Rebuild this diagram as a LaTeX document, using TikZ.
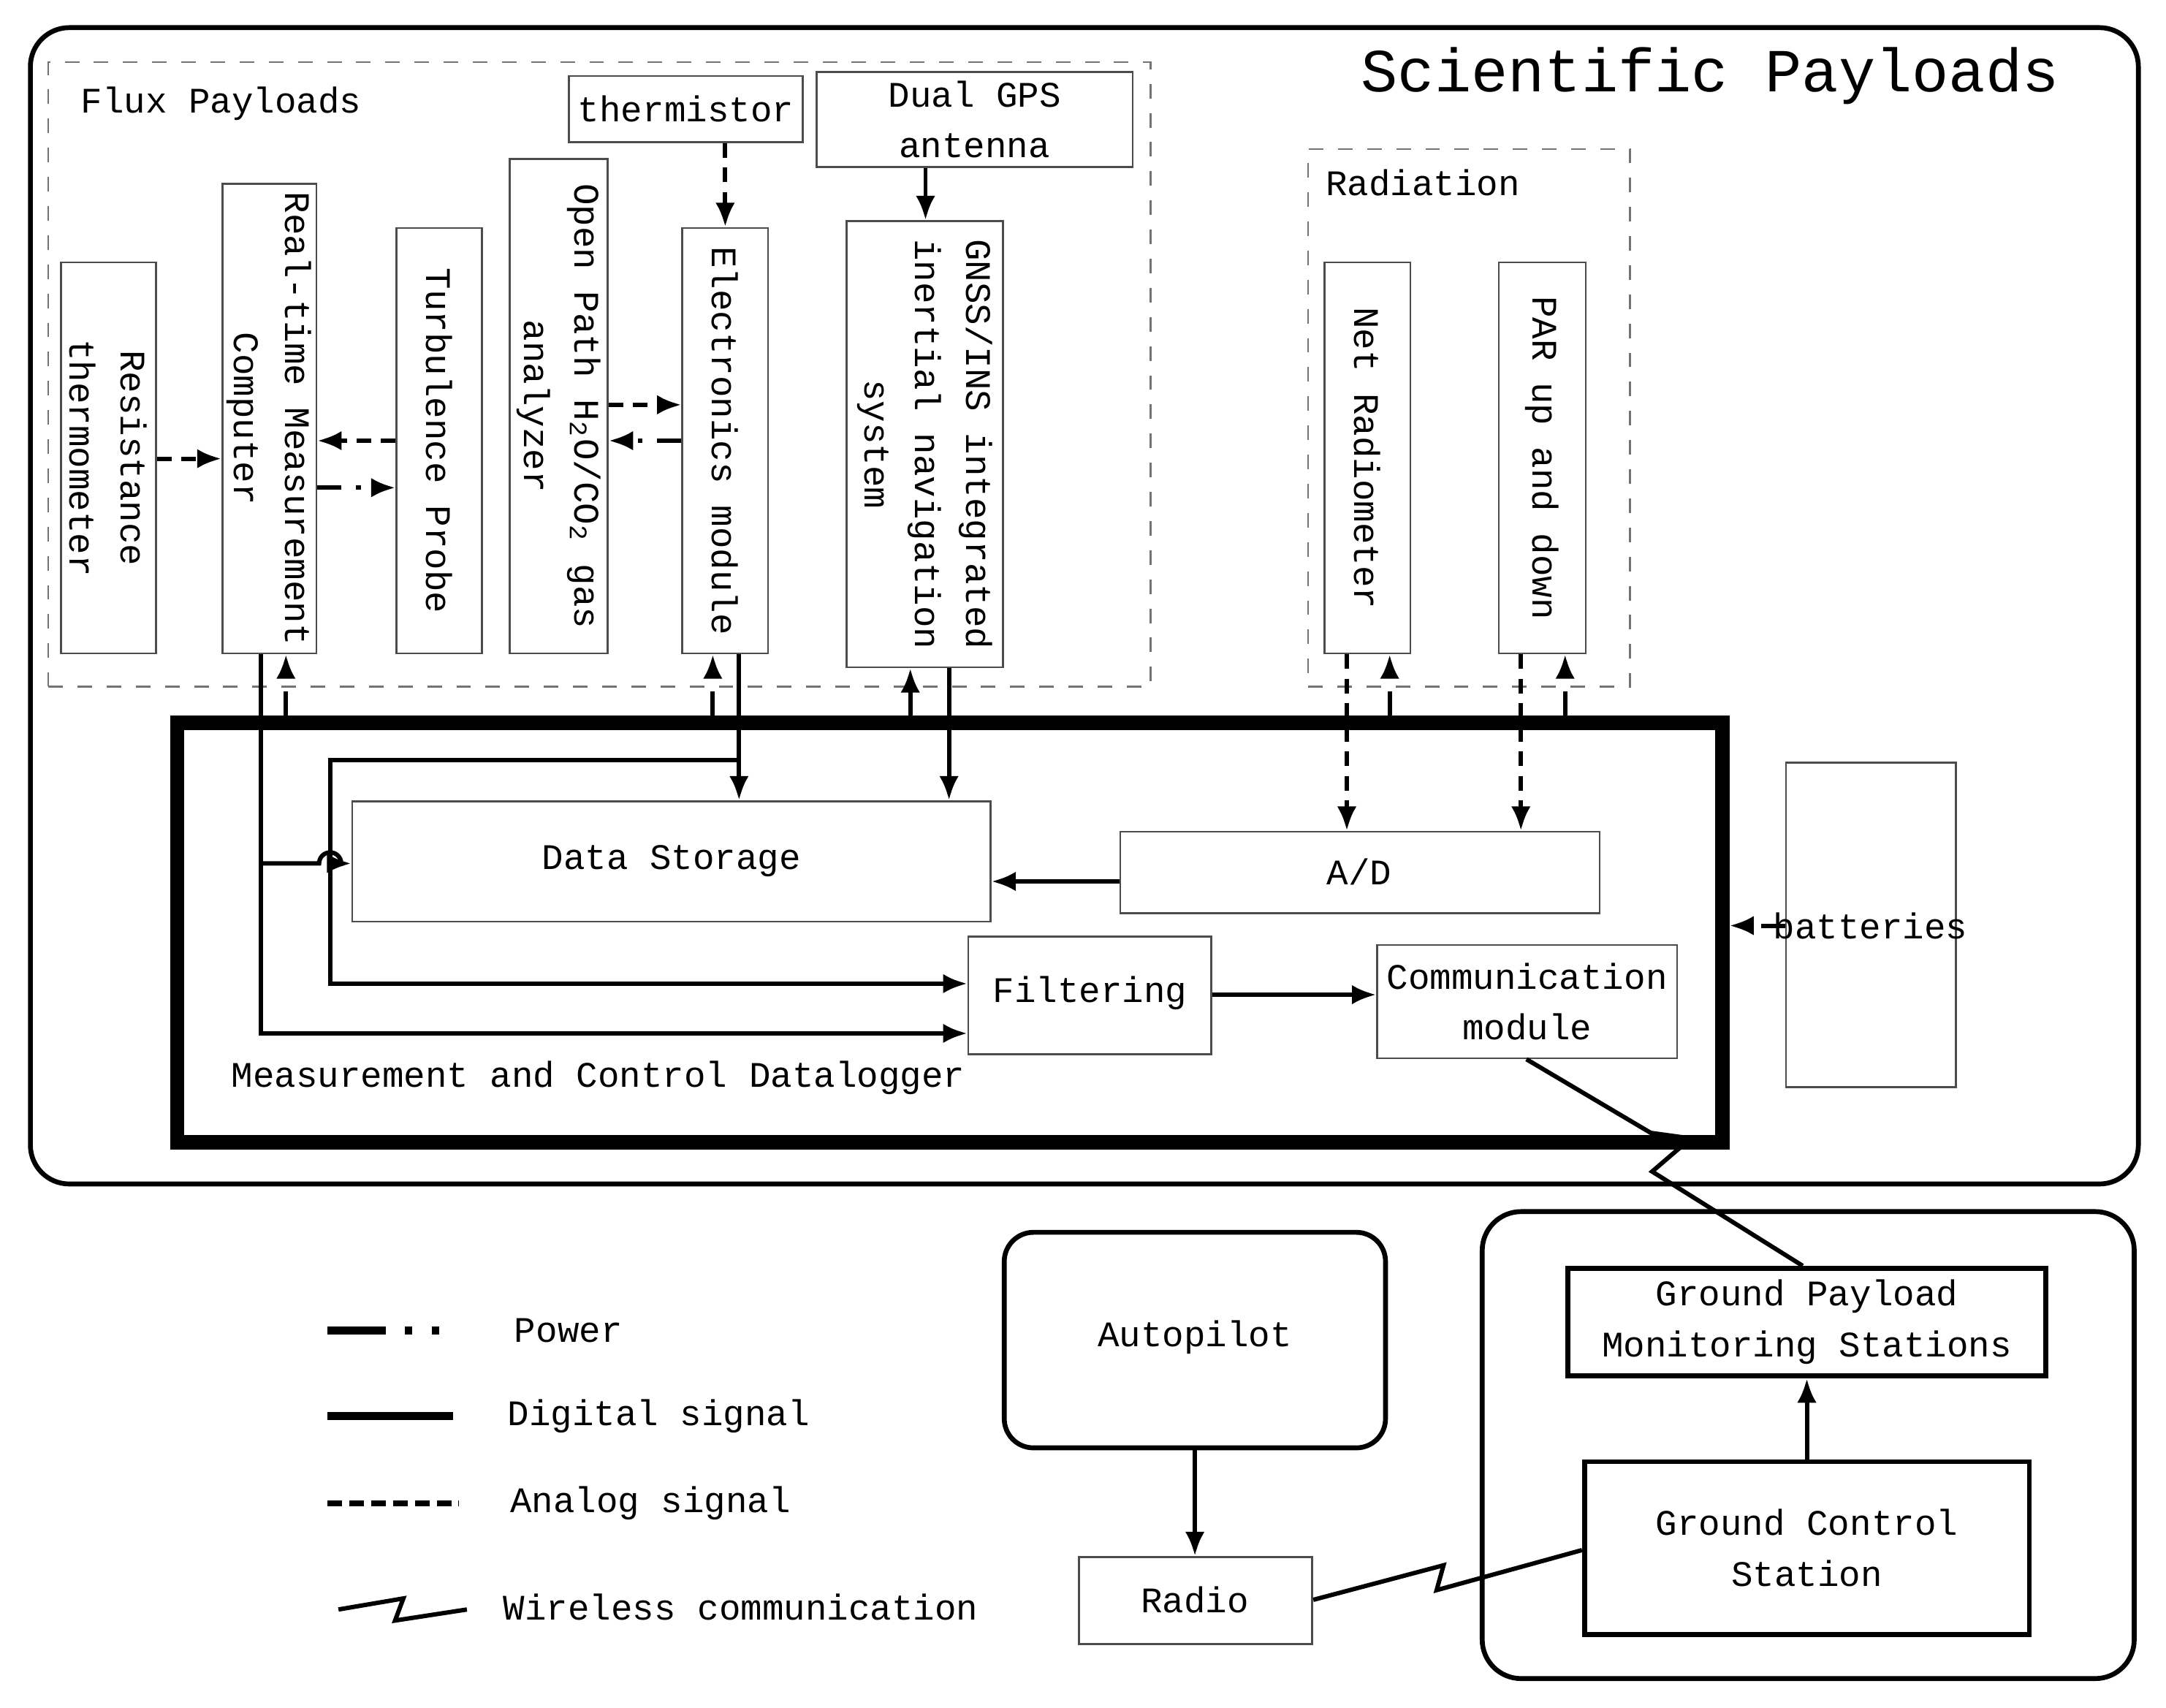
\documentclass[tikz,border=0pt]{standalone}
\usepackage{fontspec}
\setmainfont{Liberation Mono}
\usetikzlibrary{fit,arrows.meta}
\begin{document}
\begin{tikzpicture}[x=0.01cm,y=-0.01cm,
  font=\fontsize{7.4}{10.5}\selectfont,
  box/.style={draw=black!70,line width=0.4pt,inner sep=0pt},
  dbox/.style={draw=black!55,dashed,line width=0.4pt,inner sep=0pt},
  tbox/.style={draw=black,line width=1pt,inner sep=0pt},
  con/.style={line width=0.9pt},
  ar/.style={con,-{Latex[length=5pt,width=4pt]}},
  an/.style={ar,dash pattern=on 3pt off 2pt},
  pw/.style={ar,dash pattern=on 5pt off 3pt on 1pt off 3pt},
  rt/.style={rotate=-90,align=center}]
\newcommand\bx[6]{\node[#6,fit={(#2,#3)(#4,#5)}] (#1) {};}
\useasboundingbox (0,0) rectangle (1568,1236);
% outer
\draw[line width=1pt,rounded corners=8pt] (22,20) rectangle (1548,857);
\node[font=\fontsize{12.6}{14}\selectfont] at (1238,55) {Scientific Payloads};
\bx{flux}{35}{45}{833}{497}{dbox}
\node at (160,75) {Flux Payloads};
\bx{therm}{412}{55}{581}{103}{box}
\node at (therm) {thermistor};
\bx{gps}{591}{52}{820}{121}{box}
\node[align=center] at (gps) {Dual GPS\\antenna};
\bx{res}{44}{190}{113}{473}{box}
\node[rt] at (res) {Resistance\\thermometer};
\bx{rtmc}{161}{133}{229}{473}{box}
\node[rt] at (rtmc) {Real-time Measurement\\Computer};
\bx{turb}{287}{165}{349}{473}{box}
\node[rt] at (turb) {Turbulence Probe};
\bx{open}{369}{115}{440}{473}{box}
\node[rt] at (open) {Open Path H\textsubscript{2}O/CO\textsubscript{2} gas\\analyzer};
\bx{elec}{494}{165}{556}{473}{box}
\node[rt] at (elec) {Electronics module};
\bx{gnss}{613}{160}{726}{483}{box}
\node[rt] at (gnss) {GNSS/INS integrated\\inertial navigation\\system};
\bx{rad}{947}{108}{1180}{497}{dbox}
\node at (1030,132) {Radiation};
\bx{net}{959}{190}{1021}{473}{box}
\node[rt] at (net) {Net Radiometer};
\bx{par}{1085}{190}{1148}{473}{box}
\node[rt] at (par) {PAR up and down};
% datalogger
\bx{dl}{140}{535}{1235}{815}{draw,line width=3pt}
\node at (433,780) {Measurement and Control Datalogger};
\bx{ds}{255}{580}{717}{667}{box}
\node at (486,623) {Data Storage};
\bx{ad}{811}{602}{1158}{661}{box}
\node at (984,631) {A/D};
\bx{filt}{701}{678}{877}{763}{box}
\node at (789,719) {Filtering};
\bx{comm}{997}{684}{1214}{766}{box}
\node[align=center] at (comm) {Communication\\module};
\bx{bat}{1293}{552}{1416}{787}{box}
\node at (1354,670) {batteries};
% ground
\bx{auto}{727}{892}{1003}{1048}{tbox,rounded corners=6pt}
\node at (865,968) {Autopilot};
\bx{radio}{781}{1127}{950}{1190}{box}
\node at (865,1158) {Radio};
\draw[line width=1pt,rounded corners=8pt] (1073,877) rectangle (1545,1215);
\bx{gpm}{1135}{918}{1481}{996}{tbox}
\node[align=center] at (gpm) {Ground Payload\\Monitoring Stations};
\bx{gcs}{1147}{1058}{1469}{1183}{tbox}
\node[align=center] at (gcs) {Ground Control\\Station};
% connectors in flux
\draw[an] (res.east|-0,332) -- (rtmc.west|-0,332);
\draw[an] (turb.west|-0,319) -- (rtmc.east|-0,319);
\draw[pw] (rtmc.east|-0,353) -- (turb.west|-0,353);
\draw[an] (open.east|-0,293) -- (elec.west|-0,293);
\draw[pw] (elec.west|-0,319) -- (open.east|-0,319);
\draw[an] (therm.south-|525,0) -- (elec.north-|525,0);
\draw[ar] (gps.south-|670,0) -- (gnss.north-|670,0);
% power up
\draw[pw] (dl.north-|207,0) -- (rtmc.south-|207,0);
\draw[pw] (dl.north-|516,0) -- (elec.south-|516,0);
\draw[pw] (dl.north-|659,0) -- (gnss.south-|659,0);
\draw[pw] (dl.north-|1006,0) -- (net.south-|1006,0);
\draw[pw] (dl.north-|1133,0) -- (par.south-|1133,0);
\draw[pw] (bat.west|-0,670) -- (dl.east|-0,670);
% analog down
\draw[an] (net.south-|975,0) -- (ad.north-|975,0);
\draw[an] (par.south-|1101,0) -- (ad.north-|1101,0);
% digital
\draw[ar] (elec.south-|535,0) -- (ds.north-|535,0);
\draw[ar] (gnss.south-|687,0) -- (ds.north-|687,0);
\coordinate (j1) at (535,550);
\draw[ar] (j1) -- (239,550) -- (239,712) -- (filt.west|-0,712);
\draw[ar] (rtmc.south-|189,0) -- (189,748) -- (filt.west|-0,748);
\draw[ar] (189,625) -- (231,625) arc[start angle=180,end angle=0,radius=0.08cm] -- (ds.west|-0,625);
\draw[ar] (ad.west|-0,638) -- (ds.east|-0,638);
\draw[ar] (filt.east|-0,720) -- (comm.west|-0,720);
% wireless
\draw[con] (comm.south-|1105,0) -- (1195,820) -- (1224,824) -- (1196,848) -- (gpm.north-|1305,0);
\draw[ar] (auto.south-|865,0) -- (radio.north-|865,0);
\draw[con] (radio.east|-0,1158) -- (1045,1133) -- (1040,1151) -- (gcs.west|-0,1122);
\draw[ar] (gcs.north-|1308,0) -- (gpm.south-|1308,0);
% legend
\coordinate (l1a) at (237,963); \coordinate (l1b) at (328,963);
\draw[line width=1.6pt,dash pattern=on 12pt off 4pt on 1.5pt off 4pt on 1.5pt off 4pt] (l1a) -- (l1b);
\node[anchor=west] at (360,963) {Power};
\coordinate (l2a) at (237,1025); \coordinate (l2b) at (328,1025);
\draw[line width=1.6pt] (l2a) -- (l2b);
\node[anchor=west] at (355,1025) {Digital signal};
\coordinate (l3a) at (237,1088); \coordinate (l3b) at (332,1088);
\draw[line width=1.2pt,dash pattern=on 3pt off 1.5pt] (l3a) -- (l3b);
\node[anchor=west] at (357,1088) {Analog signal};
\coordinate (l4a) at (245,1165); \coordinate (l4b) at (338,1165);
\draw[con] (l4a) -- (292,1157) -- (286,1173) -- (l4b);
\node[anchor=west] at (352,1163) {Wireless communication};
\end{tikzpicture}
\end{document}
